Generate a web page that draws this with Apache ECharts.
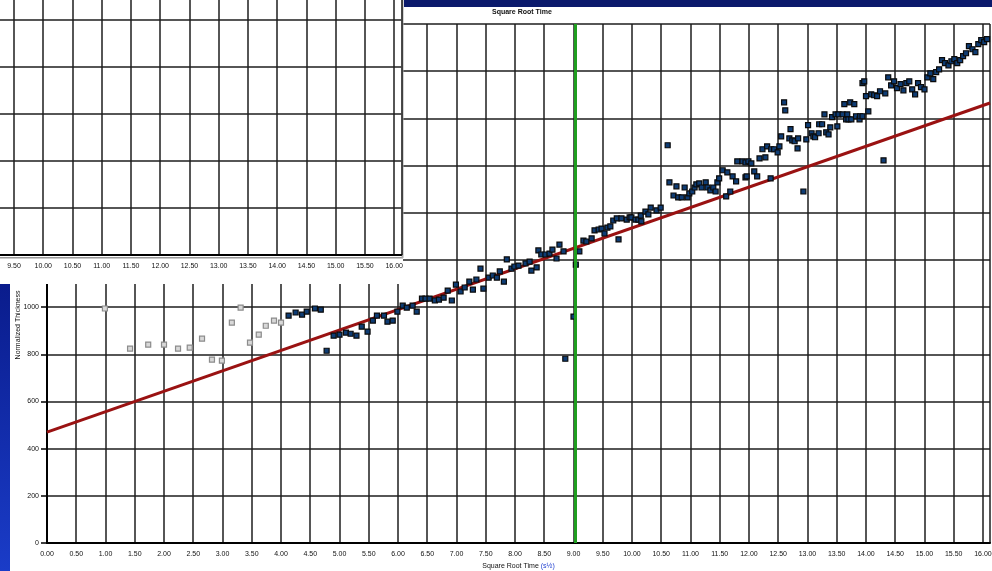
<!DOCTYPE html>
<html>
<head>
<meta charset="utf-8">
<script src="https://cdn.jsdelivr.net/npm/echarts@6/dist/echarts.min.js"></script>
<style>html,body{margin:0;padding:0;background:#fff}#c{width:992px;height:571px}</style>
</head>
<body>
<div id="c"></div>
<script>
// excluded (grey) points
const grayX = [0.99,1.42,1.73,2.00,2.24,2.44,2.65,2.82,2.99,3.16,3.31,3.47,3.62,3.74,3.88,4.00];
const grayY = [994,824,841,841,824,828,866,777,773,934,998,849,883,921,943,934];
// measured (dark) points
const darkX = [4.13,4.25,4.36,4.44,4.58,4.68,4.78,4.90,5.00,5.11,5.19,5.29,5.38,5.48,5.57,5.64,5.76,5.82,5.91,5.99,
 6.08,6.15,6.25,6.32,6.41,6.47,6.54,6.63,6.70,6.78,6.85,6.92,6.99,7.07,7.14,7.22,7.28,7.34,7.41,7.46,
 7.55,7.62,7.69,7.74,7.81,7.86,7.94,7.99,8.06,8.18,8.25,8.28,8.37,8.40,8.45,8.52,8.59,8.64,8.71,8.76,
 8.83,8.86,9.00,9.04,9.10,9.17,9.22,9.31,9.36,9.43,9.48,9.53,9.58,9.63,9.68,9.74,9.77,9.82,9.91,9.96,
 9.99,10.06,10.11,10.15,10.16,10.23,10.28,10.32,10.42,10.49,10.61,10.64,10.71,10.76,10.79,10.85,10.90,10.95,10.98,11.03,
 11.07,11.10,11.15,11.19,11.26,11.29,11.34,11.39,11.43,11.46,11.49,11.55,11.61,11.63,11.68,11.72,11.78,11.80,11.89,11.94,
 11.94,11.96,11.99,12.04,12.09,12.14,12.18,12.23,12.28,12.31,12.37,12.38,12.43,12.49,12.52,12.55,12.60,12.62,12.69,12.71,
 12.74,12.78,12.83,12.84,12.93,12.98,13.01,13.07,13.10,13.13,13.19,13.20,13.25,13.29,13.32,13.36,13.39,13.42,13.48,13.51,
 13.53,13.60,13.63,13.66,13.68,13.70,13.73,13.75,13.80,13.83,13.89,13.90,13.94,13.94,13.97,14.00,14.04,14.09,14.14,14.19,
 14.24,14.30,14.33,14.38,14.43,14.48,14.53,14.59,14.64,14.69,14.74,14.79,14.84,14.89,14.94,15.00,15.05,15.10,15.15,15.20,
 15.25,15.30,15.35,15.41,15.46,15.51,15.56,15.61,15.66,15.71,15.76,15.82,15.87,15.92,15.97,16.02,16.07];
const darkY = [964,977,968,981,994,989,815,879,883,892,887,879,917,896,943,964,964,938,943,981,
 1006,998,1006,981,1036,1036,1036,1028,1032,1040,1070,1028,1095,1066,1083,1108,1074,1117,1163,1078,
 1125,1134,1125,1151,1108,1202,1163,1172,1176,1185,1193,1155,1168,1240,1223,1223,1227,1244,1206,1265,
 1236,781,960,1180,1236,1282,1278,1291,1325,1329,1333,1312,1337,1342,1367,1376,1287,1376,1371,1380,
 1380,1371,1371,1388,1363,1405,1393,1422,1410,1422,1686,1529,1473,1512,1465,1465,1507,1465,1482,1490,
 1507,1520,1524,1507,1529,1507,1495,1507,1490,1529,1546,1580,1469,1571,1490,1554,1533,1618,1618,1613,
 1550,1554,1618,1609,1575,1554,1630,1669,1635,1681,1546,1669,1669,1656,1681,1724,1868,1834,1715,1754,
 1707,1703,1673,1715,1490,1711,1771,1737,1724,1720,1737,1775,1775,1817,1741,1732,1762,1805,1817,1766,
 1817,1817,1860,1796,1817,1796,1868,1796,1860,1809,1796,1809,1809,1949,1957,1894,1830,1902,1898,1894,
 1915,1622,1906,1974,1940,1957,1928,1945,1919,1949,1957,1923,1902,1949,1932,1923,1974,1991,1966,1996,
 2008,2047,2034,2025,2042,2051,2034,2047,2064,2076,2106,2093,2081,2115,2132,2123,2136];
// fitted line end points
const fitX = [0, 16.12];
const fitY = [470, 1865];
const markerX = 9.03;
const chartTitle = 'Square Root Time';
const xName = 'Square Root Time ';
const xUnit = '(s\u00BD)';
const yName = 'Normalized Thickness';

const zip = (a, b) => a.map((v, i) => [v, b[i]]);
const chart = echarts.init(document.getElementById('c'), null, {renderer: 'canvas'});
const gridLine = {show: true, lineStyle: {color: '#1e1e1e', width: 1.5}};
const lbl = {fontSize: 7, fontFamily: 'Liberation Sans', color: '#111'};

chart.setOption({
  animation: false,
  title: {text: chartTitle, left: 487, top: 4, textStyle: {fontSize: 7, fontWeight: 'bold', color: '#111', fontFamily: 'Liberation Sans'}},
  grid: [
    {left: 47, right: 2, top: 24, bottom: 28, containLabel: false, outerBoundsMode: 'none'},
    {left: -15.25, right: 590.75, top: -27, bottom: 316, containLabel: false, outerBoundsMode: 'none'}
  ],
  xAxis: [
    {gridIndex: 0, type: 'value', min: 0, max: 16.12, interval: 0.5,
     axisLine: {lineStyle: {color: '#000', width: 2}}, axisTick: {show: false},
     axisLabel: Object.assign({margin: 8, interval: 0, showMaxLabel: false, formatter: v => v.toFixed(2)}, lbl),
     splitLine: gridLine,
     name: '{a|' + xName + '}{b|' + xUnit + '}', nameLocation: 'middle', nameGap: 19,
     nameTextStyle: {rich: {a: {fontSize: 7, color: '#111', fontFamily: 'Liberation Sans'}, b: {fontSize: 7, color: '#1f3fd0', fontFamily: 'Liberation Sans'}}}},
    {gridIndex: 1, type: 'value', min: 9, max: 16.12, interval: 0.5, z: 60,
     axisLine: {lineStyle: {color: '#000', width: 2}}, axisTick: {show: false},
     axisLabel: Object.assign({margin: 8, interval: 0, showMaxLabel: false, showMinLabel: false, formatter: v => v.toFixed(2)}, lbl),
     splitLine: gridLine}
  ],
  yAxis: [
    {gridIndex: 0, type: 'value', min: 0, max: 2200, interval: 200,
     axisLine: {show: true, lineStyle: {color: '#000', width: 2}},
     axisTick: {show: true, length: 6, lineStyle: {color: '#000', width: 1.5}},
     axisLabel: Object.assign({margin: 8, formatter: v => String(v)}, lbl),
     splitLine: gridLine},
    {gridIndex: 1, type: 'value', min: 0, max: 1200, interval: 200, z: 60,
     axisLine: {show: false}, axisTick: {show: false}, axisLabel: {show: false},
     splitLine: gridLine}
  ],
  graphic: [
    {type: 'rect', z: 50, shape: {x: 0, y: 0, width: 403, height: 284}, style: {fill: '#fff'}},
    {type: 'rect', z: 50, shape: {x: 0, y: 257, width: 403, height: 1.5}, style: {fill: '#999'}},
    {type: 'rect', z: 50, shape: {x: 401.5, y: 0, width: 2, height: 258}, style: {fill: '#aaa'}},
    {type: 'rect', z: 50, shape: {x: 404, y: 0, width: 588, height: 7}, style: {fill: '#0b1a6c'}},
    {type: 'rect', z: 50, shape: {x: 0, y: 284, width: 10, height: 287},
     style: {fill: new echarts.graphic.LinearGradient(0, 0, 0, 1, [{offset: 0, color: '#0a1c8c'}, {offset: 1, color: '#1a3cc8'}])}},
    {type: 'text', z: 55, x: 18, y: 325, rotation: Math.PI / 2,
     style: {text: yName, fontSize: 7, fill: '#111', fontFamily: 'Liberation Sans', align: 'center', verticalAlign: 'middle'}}
  ],
  series: [
    {type: 'line', xAxisIndex: 0, yAxisIndex: 0, data: zip(fitX, fitY), showSymbol: false, z: 2,
     lineStyle: {color: '#9a1212', width: 3},
     markLine: {silent: true, symbol: 'none', label: {show: false},
       lineStyle: {color: '#1f9e1f', width: 3, type: 'solid'}, data: [{xAxis: markerX}]}},
    {type: 'scatter', xAxisIndex: 0, yAxisIndex: 0, data: zip(grayX, grayY), symbol: 'rect', symbolSize: 5, z: 3,
     itemStyle: {color: '#d8d8d8', borderColor: '#8c8c8c', borderWidth: 1.2, opacity: 1}},
    {type: 'scatter', xAxisIndex: 0, yAxisIndex: 0, data: zip(darkX, darkY), symbol: 'rect', symbolSize: 5, z: 4,
     itemStyle: {color: '#0e3c74', borderColor: '#0a0a0a', borderWidth: 1.2, opacity: 1}}
  ]
});
</script>
</body>
</html>
